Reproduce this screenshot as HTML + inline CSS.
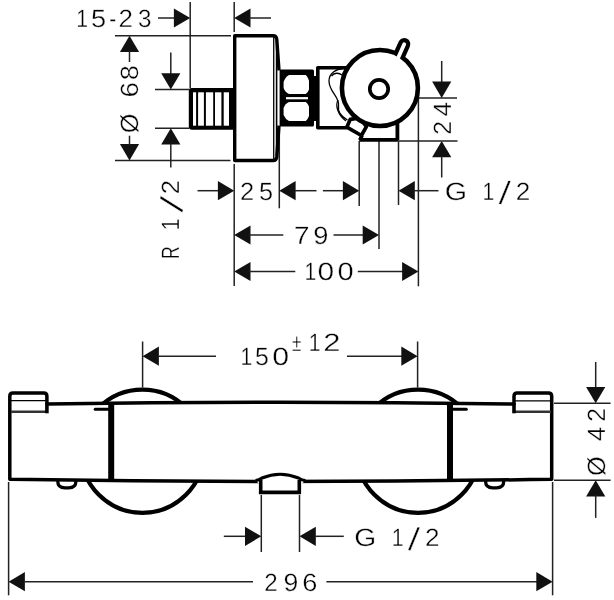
<!DOCTYPE html>
<html><head><meta charset="utf-8"><title>Thermostat dimensions</title>
<style>
html,body{margin:0;padding:0;background:#fff;}
svg{display:block;filter:grayscale(1)}
.t{font-family:"Liberation Sans",sans-serif;fill:#000;stroke:#fff;stroke-width:0.35px;text-rendering:geometricPrecision;}
</style></head><body>
<svg width="614" height="600" viewBox="0 0 614 600">
<rect width="614" height="600" fill="#fff"/>
<line x1="115" y1="35.7" x2="231" y2="35.7" stroke="#222" stroke-width="1.5" fill="none"/>
<line x1="115" y1="160.4" x2="230.5" y2="160.4" stroke="#222" stroke-width="1.5" fill="none"/>
<line x1="190.2" y1="2" x2="190.2" y2="88.5" stroke="#222" stroke-width="1.5" fill="none"/>
<line x1="234.2" y1="2" x2="234.2" y2="32" stroke="#222" stroke-width="1.5" fill="none"/>
<line x1="155" y1="89.5" x2="189" y2="89.5" stroke="#222" stroke-width="1.5" fill="none"/>
<line x1="155" y1="128.3" x2="189" y2="128.3" stroke="#222" stroke-width="1.5" fill="none"/>
<line x1="234.2" y1="164" x2="234.2" y2="286" stroke="#222" stroke-width="1.5" fill="none"/>
<line x1="279.3" y1="128" x2="279.3" y2="208.3" stroke="#222" stroke-width="1.5" fill="none"/>
<line x1="359.2" y1="141" x2="359.2" y2="206" stroke="#222" stroke-width="1.5" fill="none"/>
<line x1="379.0" y1="141" x2="379.0" y2="249" stroke="#222" stroke-width="1.5" fill="none"/>
<line x1="398.5" y1="141" x2="398.5" y2="205" stroke="#222" stroke-width="1.5" fill="none"/>
<line x1="418.4" y1="97" x2="418.4" y2="286.3" stroke="#222" stroke-width="1.5" fill="none"/>
<line x1="418.4" y1="97.9" x2="457" y2="97.9" stroke="#222" stroke-width="1.5" fill="none"/>
<line x1="399" y1="140.9" x2="457.5" y2="140.9" stroke="#222" stroke-width="1.5" fill="none"/>
<line x1="158" y1="18" x2="175" y2="18" stroke="#222" stroke-width="1.5" fill="none"/>
<polygon points="190.2,18 173.89999999999998,8.4 173.89999999999998,27.6" fill="#111"/>
<polygon points="234.2,18 250.5,8.4 250.5,27.6" fill="#111"/>
<line x1="249" y1="18" x2="271" y2="18" stroke="#222" stroke-width="1.5" fill="none"/>
<polygon points="129.5,35.7 119.9,52.0 139.1,52.0" fill="#111"/>
<line x1="129.5" y1="51" x2="129.5" y2="62" stroke="#222" stroke-width="1.5" fill="none"/>
<polygon points="129.5,160.4 119.9,144.1 139.1,144.1" fill="#111"/>
<line x1="129.5" y1="135.7" x2="129.5" y2="145" stroke="#222" stroke-width="1.5" fill="none"/>
<line x1="170.8" y1="52.5" x2="170.8" y2="74" stroke="#222" stroke-width="1.5" fill="none"/>
<polygon points="170.8,89.5 161.20000000000002,73.2 180.4,73.2" fill="#111"/>
<polygon points="170.8,128.3 161.20000000000002,144.60000000000002 180.4,144.60000000000002" fill="#111"/>
<line x1="170.8" y1="144" x2="170.8" y2="167.5" stroke="#222" stroke-width="1.5" fill="none"/>
<line x1="197.5" y1="190.7" x2="218" y2="190.7" stroke="#222" stroke-width="1.5" fill="none"/>
<polygon points="234.2,190.7 217.89999999999998,181.1 217.89999999999998,200.29999999999998" fill="#111"/>
<polygon points="279.3,190.7 295.6,181.1 295.6,200.29999999999998" fill="#111"/>
<line x1="295" y1="190.7" x2="316.5" y2="190.7" stroke="#222" stroke-width="1.5" fill="none"/>
<line x1="322.9" y1="190.7" x2="344" y2="190.7" stroke="#222" stroke-width="1.5" fill="none"/>
<polygon points="359.2,190.7 342.9,181.1 342.9,200.29999999999998" fill="#111"/>
<polygon points="398.5,190.7 414.8,181.1 414.8,200.29999999999998" fill="#111"/>
<line x1="414" y1="190.7" x2="438.5" y2="190.7" stroke="#222" stroke-width="1.5" fill="none"/>
<polygon points="234.2,235 250.5,225.4 250.5,244.6" fill="#111"/>
<line x1="249" y1="235" x2="283.3" y2="235" stroke="#222" stroke-width="1.5" fill="none"/>
<line x1="333.5" y1="235" x2="363" y2="235" stroke="#222" stroke-width="1.5" fill="none"/>
<polygon points="379.0,235 362.7,225.4 362.7,244.6" fill="#111"/>
<polygon points="234.2,271.5 250.5,261.9 250.5,281.1" fill="#111"/>
<line x1="249" y1="271.5" x2="295.3" y2="271.5" stroke="#222" stroke-width="1.5" fill="none"/>
<line x1="357.8" y1="271.5" x2="403" y2="271.5" stroke="#222" stroke-width="1.5" fill="none"/>
<polygon points="418.4,271.5 402.09999999999997,261.9 402.09999999999997,281.1" fill="#111"/>
<line x1="441.7" y1="61" x2="441.7" y2="82.5" stroke="#222" stroke-width="1.5" fill="none"/>
<polygon points="441.7,97.9 432.09999999999997,81.60000000000001 451.3,81.60000000000001" fill="#111"/>
<polygon points="441.7,140.9 432.09999999999997,157.20000000000002 451.3,157.20000000000002" fill="#111"/>
<line x1="441.7" y1="156" x2="441.7" y2="177.5" stroke="#222" stroke-width="1.5" fill="none"/>
<path d="M234,88 H192 Q188.8,88 188.8,91.2 V126.6 Q188.8,129.8 192,129.8 H234 Z" fill="#000"/>
<rect x="193" y="92.3" width="3.1" height="33.4" fill="#fff"/>
<rect x="198.1" y="92.3" width="5.8" height="33.4" fill="#fff"/>
<rect x="205.9" y="92.3" width="7.3" height="33.4" fill="#fff"/>
<rect x="215" y="92.3" width="6.4" height="33.4" fill="#fff"/>
<rect x="223.7" y="92.3" width="5.3" height="33.4" fill="#fff"/>
<path d="M234.7,35.8 H273 Q276.4,35.8 276.8,39.5 L278.9,69.5 V126.5 L276.8,156.7 Q276.4,160.5 273,160.5 H234.7 Z" fill="#fff" stroke="none"/>
<path d="M279,70.5 L276.8,39.5 Q276.4,35.8 273,35.8 H234.7 V160.5 H273 Q276.4,160.5 276.8,156.7 L279,125.5" fill="none" stroke="#000" stroke-width="3.4" stroke-linejoin="round"/>
<line x1="273.7" y1="37" x2="273.7" y2="159.5" stroke="#111" stroke-width="1.4"/>
<line x1="276.6" y1="40" x2="276.6" y2="156" stroke="#000" stroke-width="1.6"/>
<rect x="279.6" y="69.4" width="34.4" height="57.1" rx="1.5" fill="#000"/>
<rect x="312" y="76" width="5" height="45" fill="#000"/>
<path d="M289,75 H305.8 Q308,77 309,80.5 V89.5 Q308,92.5 305.8,94 H289 Q285.2,92.5 283.6,88 V82 Q285.2,77 289,75 Z" fill="#fff"/>
<path d="M289,102 H305.8 Q308,103.5 309,106.5 V116 Q308,119 305.8,121 H289 Q285.2,119 283.6,115 V108 Q285.2,103.5 289,102 Z" fill="#fff"/>
<line x1="286" y1="98.2" x2="308" y2="98.2" stroke="#fff" stroke-width="2.2"/>
<path d="M346,67.7 H317.8 V127.7 H347" fill="#fff" stroke="#000" stroke-width="3.6" stroke-linejoin="round"/>
<path d="M343.5,68.5 C336,69 329,73 329,81 C329,92 340,97 338.5,106 C337.5,112 342,117 347.5,120" stroke="#000" stroke-width="1.3" fill="none"/>
<path d="M331.5,76 C334,72.5 339,72.5 342,75" stroke="#000" stroke-width="1.3" fill="none"/>
<path d="M338,100 C335,106 338,115 346,121" stroke="#000" stroke-width="1.3" fill="none"/>
<path d="M362,135.5 L360,139.9 H397.4 V120" fill="#fff" stroke="#000" stroke-width="3.8" stroke-linejoin="bevel"/>
<polygon points="350.2,119.4 346.8,127.2 361.4,135.5 366.4,126.6 360,118" fill="#fff" stroke="#000" stroke-width="3.7" stroke-linejoin="round"/>
<line x1="396.6" y1="61.3" x2="404.2" y2="44.2" stroke="#000" stroke-width="12.3" stroke-linecap="round"/>
<circle cx="379.9" cy="88" r="38" fill="#fff" stroke="#000" stroke-width="4.6"/>
<line x1="395.3" y1="64.2" x2="404.2" y2="44.2" stroke="#fff" stroke-width="3.8" stroke-linecap="round"/>
<circle cx="379" cy="89" r="9.2" fill="#fff" stroke="#000" stroke-width="3.7"/>
<line x1="142.6" y1="341.5" x2="142.6" y2="387.5" stroke="#222" stroke-width="1.5" fill="none"/>
<line x1="417.6" y1="341.5" x2="417.6" y2="387.5" stroke="#222" stroke-width="1.5" fill="none"/>
<polygon points="142.6,356.2 158.9,346.59999999999997 158.9,365.8" fill="#111"/>
<line x1="158" y1="356.2" x2="216" y2="356.2" stroke="#222" stroke-width="1.5" fill="none"/>
<line x1="347" y1="356.2" x2="402" y2="356.2" stroke="#222" stroke-width="1.5" fill="none"/>
<polygon points="417.6,356.2 401.3,346.59999999999997 401.3,365.8" fill="#111"/>
<circle cx="142.4" cy="451.3" r="61.6" fill="#fff" stroke="#000" stroke-width="4.2"/>
<circle cx="418" cy="451.3" r="61.6" fill="#fff" stroke="#000" stroke-width="4.2"/>
<path d="M57.8,479 V481.5 Q57.8,487.8 65,487.8 H68.7 Q75.9,487.8 75.9,481.5 V479" fill="#fff" stroke="#000" stroke-width="3.3"/>
<path d="M485.6,479 V481.5 Q485.6,487.8 492.8,487.8 H496.5 Q503.7,487.8 503.7,481.5 V479" fill="#fff" stroke="#000" stroke-width="3.3"/>
<path d="M9.8,396.3 Q9.8,393.1 13,393.1 H43.7 Q46.9,393.1 46.9,396.3 V404 Q280,400.4 514,404 V396.3 Q514,393.1 517.2,393.1 H548.5 Q551.7,393.1 551.7,396.3 V479.2 Q281,483.8 9.8,479.2 Z" fill="#fff" stroke="#000" stroke-width="3.5" stroke-linejoin="round"/>
<line x1="11" y1="400.7" x2="46" y2="400.7" stroke="#000" stroke-width="1.2"/>
<line x1="11" y1="411.7" x2="46" y2="411.7" stroke="#333" stroke-width="2.6"/>
<line x1="46.9" y1="403" x2="46.9" y2="413.3" stroke="#000" stroke-width="3.6"/>
<line x1="515" y1="400.9" x2="551" y2="400.9" stroke="#000" stroke-width="1.2"/>
<line x1="515" y1="411.7" x2="551" y2="411.7" stroke="#333" stroke-width="2.6"/>
<line x1="514" y1="403" x2="514" y2="413.3" stroke="#000" stroke-width="3.6"/>
<line x1="111.2" y1="403" x2="111.2" y2="480" stroke="#000" stroke-width="6"/>
<line x1="450" y1="403" x2="450" y2="480" stroke="#000" stroke-width="6"/>
<line x1="95.2" y1="409.3" x2="109" y2="409.3" stroke="#000" stroke-width="3" stroke-linecap="round"/>
<line x1="452" y1="409.3" x2="466.3" y2="409.3" stroke="#000" stroke-width="3" stroke-linecap="round"/>
<path d="M255.5,480.6 Q259,480.3 262,478 Q280,470.5 298.5,478 Q302,480.3 305.5,480.6 L299.3,486 H261.3 Z" fill="#fff" stroke="none"/>
<path d="M255.5,480.6 Q259,480.3 262,478 Q280,470.5 298.5,478 Q302,480.3 305.5,480.6" fill="none" stroke="#000" stroke-width="3.2"/>
<path d="M260.7,480 V492.4 H299.3 V480" fill="#fff" stroke="#000" stroke-width="3.6" />
<line x1="8.6" y1="482" x2="8.6" y2="595.3" stroke="#222" stroke-width="1.5" fill="none"/>
<line x1="552.6" y1="482" x2="552.6" y2="595.3" stroke="#222" stroke-width="1.5" fill="none"/>
<line x1="554" y1="403.3" x2="610.6" y2="403.3" stroke="#222" stroke-width="1.5" fill="none"/>
<line x1="554" y1="480.3" x2="610.6" y2="480.3" stroke="#222" stroke-width="1.5" fill="none"/>
<line x1="261.3" y1="495" x2="261.3" y2="552" stroke="#222" stroke-width="1.5" fill="none"/>
<line x1="299.5" y1="495" x2="299.5" y2="552" stroke="#222" stroke-width="1.5" fill="none"/>
<line x1="223.8" y1="536.3" x2="246" y2="536.3" stroke="#222" stroke-width="1.5" fill="none"/>
<polygon points="261.3,536.3 245.0,526.6999999999999 245.0,545.9" fill="#111"/>
<polygon points="299.5,536.3 315.8,526.6999999999999 315.8,545.9" fill="#111"/>
<line x1="315" y1="536.3" x2="343.8" y2="536.3" stroke="#222" stroke-width="1.5" fill="none"/>
<polygon points="8.6,581.7 24.9,572.1 24.9,591.3000000000001" fill="#111"/>
<line x1="24" y1="581.7" x2="253" y2="581.7" stroke="#222" stroke-width="1.5" fill="none"/>
<line x1="326.4" y1="581.7" x2="537" y2="581.7" stroke="#222" stroke-width="1.5" fill="none"/>
<polygon points="552.6,581.7 536.3000000000001,572.1 536.3000000000001,591.3000000000001" fill="#111"/>
<line x1="595.7" y1="362" x2="595.7" y2="388" stroke="#222" stroke-width="1.5" fill="none"/>
<polygon points="595.7,403.3 586.1,387.0 605.3000000000001,387.0" fill="#111"/>
<polygon points="595.7,480.3 586.1,496.6 605.3000000000001,496.6" fill="#111"/>
<line x1="595.7" y1="495" x2="595.7" y2="517.9" stroke="#222" stroke-width="1.5" fill="none"/>
<text class="t" xml:space="preserve" font-size="25" transform="translate(0,27.3)" x="76.33 90.91 109.36 118.50 137.93" y="0.00 0.00 0.00 0.00 0.00"><tspan textLength="11.82" lengthAdjust="spacingAndGlyphs">1</tspan><tspan textLength="15.10" lengthAdjust="spacingAndGlyphs">5</tspan><tspan textLength="6.93" lengthAdjust="spacingAndGlyphs">-</tspan><tspan textLength="14.42" lengthAdjust="spacingAndGlyphs">2</tspan><tspan textLength="13.49" lengthAdjust="spacingAndGlyphs">3</tspan></text>
<text class="t" xml:space="preserve" font-size="25" transform="translate(137.8,0) rotate(-90)" x="-133.21 -115.35 -97.49 -80.33" y="0.00 0.00 0.00 0.00"><tspan textLength="19.67" lengthAdjust="spacingAndGlyphs">Ø</tspan> <tspan textLength="15.48" lengthAdjust="spacingAndGlyphs">6</tspan><tspan textLength="15.15" lengthAdjust="spacingAndGlyphs">8</tspan></text>
<text class="t" xml:space="preserve" font-size="25" transform="translate(179.3,0) rotate(-90)" x="-258.91 -244.54 -230.17 -212.50 -194.29" y="0.00 0.00 0.00 2.75 0.00"><tspan textLength="12.74" lengthAdjust="spacingAndGlyphs">R</tspan> <tspan textLength="11.82" lengthAdjust="spacingAndGlyphs">1</tspan><tspan rotate="17" font-size="34.96">/</tspan><tspan textLength="14.30" lengthAdjust="spacingAndGlyphs">2</tspan></text>
<text class="t" xml:space="preserve" font-size="25" transform="translate(0,199.8)" x="240.13 258.99" y="0.00 0.00"><tspan textLength="14.18" lengthAdjust="spacingAndGlyphs">2</tspan><tspan textLength="14.05" lengthAdjust="spacingAndGlyphs">5</tspan></text>
<text class="t" xml:space="preserve" font-size="25" transform="translate(0,243.6)" x="293.90 313.17" y="0.00 0.00"><tspan textLength="15.52" lengthAdjust="spacingAndGlyphs">7</tspan><tspan textLength="15.19" lengthAdjust="spacingAndGlyphs">9</tspan></text>
<text class="t" xml:space="preserve" font-size="25" transform="translate(0,280)" x="304.43 317.40 337.54" y="0.00 0.00 0.00"><tspan textLength="11.82" lengthAdjust="spacingAndGlyphs">1</tspan><tspan textLength="16.63" lengthAdjust="spacingAndGlyphs">0</tspan><tspan textLength="16.16" lengthAdjust="spacingAndGlyphs">0</tspan></text>
<text class="t" xml:space="preserve" font-size="25" transform="translate(0,200)" x="444.66 463.60 482.53 498.72 515.79" y="0.00 0.00 0.00 3.53 0.00"><tspan textLength="22.32" lengthAdjust="spacingAndGlyphs">G</tspan> <tspan textLength="11.82" lengthAdjust="spacingAndGlyphs">1</tspan><tspan rotate="7" font-size="32.93">/</tspan><tspan textLength="14.55" lengthAdjust="spacingAndGlyphs">2</tspan></text>
<text class="t" xml:space="preserve" font-size="25" transform="translate(450.9,0) rotate(-90)" x="-134.83 -116.23" y="0.00 0.00"><tspan textLength="13.69" lengthAdjust="spacingAndGlyphs">2</tspan><tspan textLength="14.13" lengthAdjust="spacingAndGlyphs">4</tspan></text>
<text class="t" xml:space="preserve" font-size="25" transform="translate(0,364.5)" x="240.53 255.01 272.19" y="0.00 0.00 0.00"><tspan textLength="11.82" lengthAdjust="spacingAndGlyphs">1</tspan><tspan textLength="13.82" lengthAdjust="spacingAndGlyphs">5</tspan><tspan textLength="16.86" lengthAdjust="spacingAndGlyphs">0</tspan></text>
<text class="t" xml:space="preserve" font-size="25" transform="translate(0,350.7)" x="291.93 308.73 323.35" y="0.40 0.00 0.00"><tspan textLength="9.41" lengthAdjust="spacingAndGlyphs" font-size="24.5">±</tspan><tspan textLength="11.82" lengthAdjust="spacingAndGlyphs">1</tspan><tspan textLength="17.24" lengthAdjust="spacingAndGlyphs">2</tspan></text>
<text class="t" xml:space="preserve" font-size="25" transform="translate(0,546.2)" x="354.29 373.06 391.83 408.02 425.09" y="0.00 0.00 0.00 3.53 0.00"><tspan textLength="21.97" lengthAdjust="spacingAndGlyphs">G</tspan> <tspan textLength="11.82" lengthAdjust="spacingAndGlyphs">1</tspan><tspan rotate="7" font-size="32.93">/</tspan><tspan textLength="14.55" lengthAdjust="spacingAndGlyphs">2</tspan></text>
<text class="t" xml:space="preserve" font-size="25" transform="translate(0,590.5)" x="264.29 283.40 302.24" y="0.00 0.00 0.00"><tspan textLength="13.45" lengthAdjust="spacingAndGlyphs">2</tspan><tspan textLength="14.83" lengthAdjust="spacingAndGlyphs">9</tspan><tspan textLength="15.11" lengthAdjust="spacingAndGlyphs">6</tspan></text>
<text class="t" xml:space="preserve" font-size="25" transform="translate(605,0) rotate(-90)" x="-476.11 -458.58 -441.04 -421.74" y="0.00 0.00 0.00 0.00"><tspan textLength="19.67" lengthAdjust="spacingAndGlyphs">Ø</tspan> <tspan textLength="14.24" lengthAdjust="spacingAndGlyphs">4</tspan><tspan textLength="13.81" lengthAdjust="spacingAndGlyphs">2</tspan></text>
</svg>
</body></html>
